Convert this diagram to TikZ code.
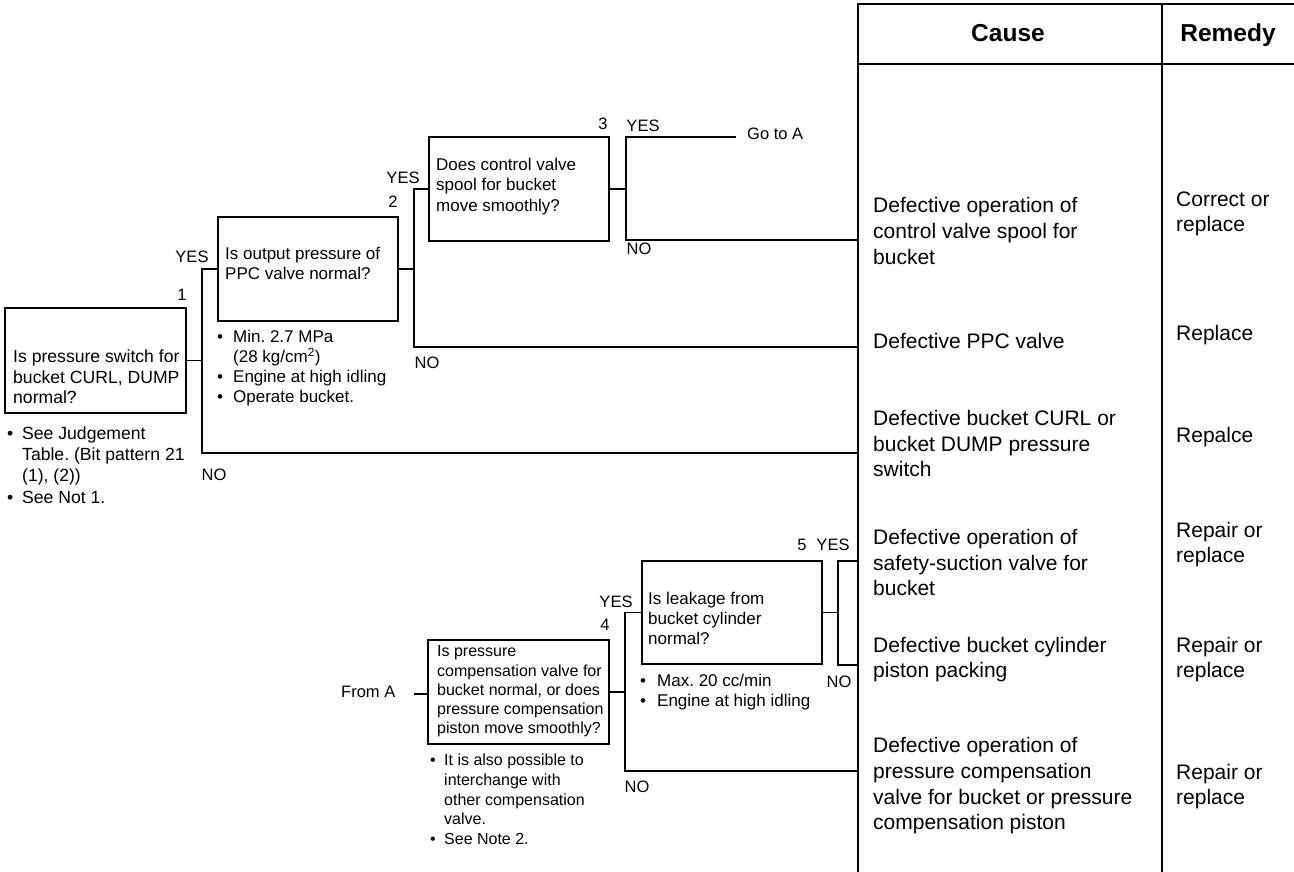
\documentclass[tikz,border=0pt]{standalone}
\usepackage{fontspec}
\setmainfont{Liberation Sans}
\newcommand\myb[1]{\makebox[#1][l]{\textbullet}}
\newcommand\myi[1]{\hspace*{#1}}
\begin{document}
\frenchspacing
\begin{tikzpicture}[x=1pt,y=-1pt,
  ln/.style={line width=1.3pt},
  tab/.style={line width=1.6pt},
  qbox/.style={draw, line width=1.5pt, inner sep=0pt, outer sep=0pt, anchor=north west},
  tq/.style={font=\fontsize{17}{20.5}\selectfont, align=left, anchor=west, inner sep=0pt},
  tqa/.style={font=\fontsize{17.6}{20.5}\selectfont, align=left, anchor=west, inner sep=0pt},
  tqs/.style={font=\fontsize{16}{19.3}\selectfont, align=left, anchor=west, inner sep=0pt},
  tc/.style={font=\fontsize{21}{25.7}\selectfont, align=left, anchor=west, inner sep=0pt},
  lbl/.style={font=\fontsize{16.5}{18}\selectfont, inner sep=0pt},
  hdr/.style={font=\bfseries\fontsize{24.5}{28}\selectfont, inner sep=0pt, anchor=base}]
\useasboundingbox (0,0) rectangle (1294,872);

% table
\draw[tab] (858,872) -- (858,4) -- (1294,4);
\draw[tab] (858,64) -- (1294,64);
\draw[tab] (1162,4) -- (1162,872);
\node[hdr] (hc) at (1008,42) {Cause};
\node[hdr] (hr) at (1228,42) {Remedy};

% boxes
\node[qbox, minimum width=181, minimum height=105] (b1) at (5,308) {};
\node[qbox, minimum width=180, minimum height=104] (b2) at (218,217) {};
\node[qbox, minimum width=180, minimum height=104] (b3) at (429,137) {};
\node[qbox, minimum width=181, minimum height=104] (b4) at (428,640) {};
\node[qbox, minimum width=180, minimum height=103] (b5) at (642,561) {};

% box texts
\node[tqa] (t1) at (13,377) {Is pressure switch for\\bucket CURL, DUMP\\normal?};
\node[tqa, font=\fontsize{17.6}{21.3}\selectfont] (m1) at (7,465) {\myb{15pt}See Judgement\\\myi{15pt}Table. (Bit pattern 21\\\myi{15pt}(1), (2))\\\myb{15pt}See Not 1.};
\node[tq] (t2) at (225,263.5) {Is output pressure of\\PPC valve normal?};
\node[tq, font=\fontsize{17}{20}\selectfont] (m2) at (217,368) {\myb{16pt}Min. 2.7 MPa\\\myi{16pt}(28 kg/cm\textsuperscript{2})\\\myb{16pt}Engine at high idling\\\myb{16pt}Operate bucket.};
\node[tq] (t3) at (436,186.5) {Does control valve\\spool for bucket\\move smoothly?};
\node[tqs] (t4) at (437,691.5) {Is pressure\\compensation valve for\\bucket normal, or does\\pressure compensation\\piston move smoothly?};
\node[tqs, font=\fontsize{16}{19.7}\selectfont] (m4) at (430,799.5) {\myb{14pt}It is also possible to\\\myi{14pt}interchange with\\\myi{14pt}other compensation\\\myi{14pt}valve.\\\myb{14pt}See Note 2.};
\node[tq, font=\fontsize{17}{20}\selectfont] (t5) at (648,618) {Is leakage from\\bucket cylinder\\normal?};
\node[tq, font=\fontsize{17}{20}\selectfont] (m5) at (640,692) {\myb{17pt}Max. 20 cc/min\\\myb{17pt}Engine at high idling};

% causes
\node[tc] (c1) at (873,231) {Defective operation of\\control valve spool for\\bucket};
\node[tc] (c2) at (873,341) {Defective PPC valve};
\node[tc] (c3) at (873,443.5) {Defective bucket CURL or\\bucket DUMP pressure\\switch};
\node[tc] (c4) at (873,562.5) {Defective operation of\\safety-suction valve for\\bucket};
\node[tc] (c5) at (873,659.5) {Defective bucket cylinder\\piston packing};
\node[tc] (c6) at (873,786) {Defective operation of\\pressure compensation\\valve for bucket or pressure\\compensation piston};

% remedies
\node[tc, font=\fontsize{21}{25}\selectfont] (r1) at (1176,214) {Correct or\\replace};
\node[tc] (r2) at (1176,335) {Replace};
\node[tc] (r3) at (1176,437) {Repalce};
\node[tc, font=\fontsize{21}{25}\selectfont] (r4) at (1176,544.5) {Repair or\\replace};
\node[tc, font=\fontsize{21}{25}\selectfont] (r5) at (1176,659.5) {Repair or\\replace};
\node[tc, font=\fontsize{21}{25}\selectfont] (r6) at (1176,786.5) {Repair or\\replace};

% labels
\node[lbl] (y1) at (192,257) {YES};
\node[lbl] (k1) at (182,295) {1};
\node[lbl] (no1) at (214,475) {NO};
\node[lbl] (y2) at (403,178) {YES};
\node[lbl] (k2) at (393,202) {2};
\node[lbl] (no2) at (427,363) {NO};
\node[lbl] (k3) at (603,124) {3};
\node[lbl] (y3) at (643,126) {YES};
\node[lbl, anchor=west] (goA) at (747,134) {Go to A};
\node[lbl] (no3) at (639,249) {NO};
\node[lbl, anchor=west] (frA) at (341,692) {From A};
\node[lbl] (y4) at (616,602) {YES};
\node[lbl] (k4) at (605,625) {4};
\node[lbl] (no4) at (637,787) {NO};
\node[lbl] (k5) at (802,545) {5};
\node[lbl] (y5) at (833,545) {YES};
\node[lbl] (no5) at (839,682) {NO};

% junction coordinates
\coordinate (n1) at (202,453);
\coordinate (e1) at (858,453);
\coordinate (n2) at (414,347);
\coordinate (e2) at (858,347);
\coordinate (ya3) at (736,137);
\coordinate (n3) at (626,240);
\coordinate (e3) at (858,240);
\coordinate (fa) at (414,694);
\coordinate (n4) at (625,771);
\coordinate (e4) at (858,771);
\coordinate (e5a) at (858,561);
\coordinate (n5) at (838,665);
\coordinate (e5b) at (858,665);

% connectors
\draw[ln] (b1.east) -- (b1.east -| n1);
\draw[ln] (b2.west) -| (n1) -- (e1);
\draw[ln] (b2.east) -- (b2.east -| n2);
\draw[ln] (b3.west) -| (n2) -- (e2);
\draw[ln] (b3.east) -- (b3.east -| n3);
\draw[ln] (ya3) -| (n3) -- (e3);
\draw[ln] (fa) -- (fa -| b4.west);
\draw[ln] (b4.east) -- (b4.east -| n4);
\draw[ln] (b5.west) -| (n4) -- (e4);
\draw[ln] (b5.east) -- (b5.east -| n5);
\draw[ln] (e5a) -| (n5) -- (e5b);
\end{tikzpicture}
\end{document}
